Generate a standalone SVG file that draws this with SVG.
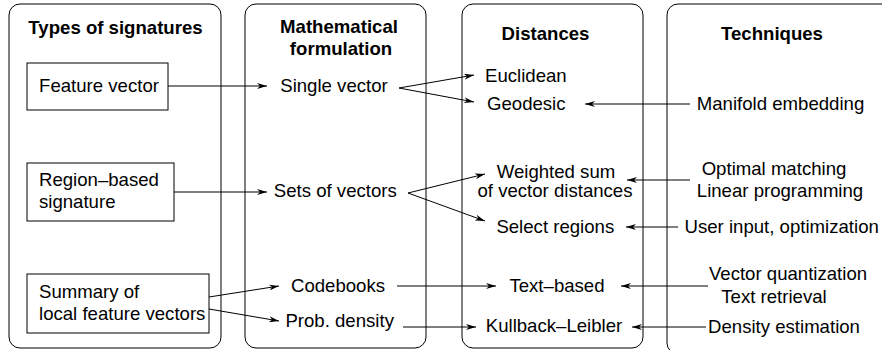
<svg xmlns="http://www.w3.org/2000/svg" width="882" height="350" viewBox="0 0 882 350">
<style>
.col{fill:none;stroke:#000;stroke-width:1}
.box{fill:#fff;stroke:#000;stroke-width:1}
text{font-family:"Liberation Sans",Arial,Helvetica,sans-serif;font-size:18.6px;fill:#000}
.b{font-weight:bold}
.m{text-anchor:middle}
.c{fill:none;stroke:#000;stroke-width:1;marker-end:url(#ah)}
</style>
<defs>
<marker id="ah" viewBox="0 0 10 6" refX="10" refY="3" markerWidth="10" markerHeight="6" markerUnits="userSpaceOnUse" orient="auto">
<path d="M0,0 L10,3 L0,6 L3,3 z" fill="#000"/>
</marker>
</defs>
<rect width="882" height="350" fill="#fff"/>
<g id="col-types">
<rect class="col" x="9" y="4" width="212" height="344" rx="11"/>
<text class="b m" x="115.5" y="34">Types of signatures</text>
</g>
<g id="col-math">
<rect class="col" x="245" y="4" width="181" height="344" rx="11"/>
<text class="b m" x="339" y="33">Mathematical</text>
<text class="b m" x="341" y="55">formulation</text>
</g>
<g id="col-dist">
<rect class="col" x="462" y="4" width="181" height="344" rx="11"/>
<text class="b m" x="545.5" y="39.5">Distances</text>
</g>
<g id="col-tech">
<rect class="col" x="667" y="4" width="240" height="350" rx="11"/>
<text class="b m" x="772" y="40">Techniques</text>
</g>
<g id="n-feature">
<rect class="box" x="27" y="63" width="141" height="47"/>
<text class="m" x="99" y="92">Feature vector</text>
</g>
<g id="n-region">
<rect class="box" x="27" y="163" width="147" height="58"/>
<text x="39" y="186">Region–based</text>
<text x="39" y="208">signature</text>
</g>
<g id="n-summary">
<rect class="box" x="27" y="274" width="182" height="59"/>
<text x="39" y="298">Summary of</text>
<text x="39" y="320">local feature vectors</text>
</g>
<g id="n-single"><text class="m" x="334" y="92">Single vector</text></g>
<g id="n-sets"><text class="m" x="335.3" y="197">Sets of vectors</text></g>
<g id="n-codebooks"><text class="m" x="338" y="291.5">Codebooks</text></g>
<g id="n-prob"><text class="m" x="339.7" y="326.7">Prob. density</text></g>
<g id="n-euclid"><text x="485" y="82">Euclidean</text></g>
<g id="n-geodesic"><text x="487" y="109.5">Geodesic</text></g>
<g id="n-weighted"><text class="m" x="556" y="178">Weighted sum</text><text class="m" x="555" y="197">of vector distances</text></g>
<g id="n-select"><text class="m" x="555.3" y="232.7">Select regions</text></g>
<g id="n-textbased"><text class="m" x="557" y="291.5">Text–based</text></g>
<g id="n-kl"><text class="m" x="554" y="332">Kullback–Leibler</text></g>
<g id="n-manifold"><text class="m" x="780.5" y="109.5">Manifold embedding</text></g>
<g id="n-optimal"><text class="m" x="774" y="175">Optimal matching</text><text class="m" x="780" y="197">Linear programming</text></g>
<g id="n-user"><text class="m" x="781.7" y="232.7">User input, optimization</text></g>
<g id="n-vq"><text class="m" x="788" y="280">Vector quantization</text><text class="m" x="774" y="303">Text retrieval</text></g>
<g id="n-density"><text class="m" x="784" y="332.7">Density estimation</text></g>
<g id="connectors">
<path class="c" d="M168,86 L267,86"/>
<path class="c" d="M399,88 L474,75"/>
<path class="c" d="M399,88 L474,102"/>
<path class="c" d="M690,104 L585,104"/>
<path class="c" d="M174,192 L267,192"/>
<path class="c" d="M408,193 L485,174"/>
<path class="c" d="M408,193 L485,221"/>
<path class="c" d="M690,180 L627,180"/>
<path class="c" d="M678,227 L626,227"/>
<path class="c" d="M209,297 L279,286"/>
<path class="c" d="M209,309 L279,321"/>
<path class="c" d="M397,286 L496,286"/>
<path class="c" d="M403,327 L476,327"/>
<path class="c" d="M708,286 L621,286"/>
<path class="c" d="M706,327 L632,327"/>
</g>
</svg>
